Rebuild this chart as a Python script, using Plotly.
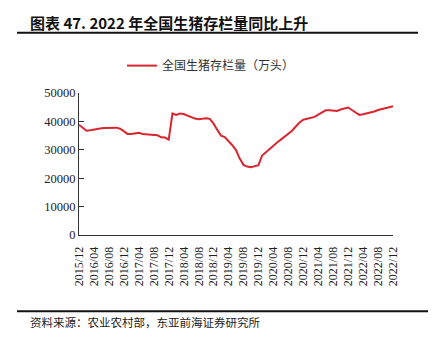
import pandas as pd
import plotly.graph_objects as go

# Monthly labels, 2015/12 .. 2022/12
months = [d.strftime("%Y/%m") for d in pd.date_range("2015-12-01", "2022-12-01", freq="MS")]

# National live-pig inventory, 10k head
inventory = [
    38800, 37600, 36700, 36900, 37200, 37400, 37600, 37700, 37700, 37800,  # 2015/12-2016/09
    37800, 37400, 36400, 35600, 35600, 35900, 36000, 35600, 35500, 35300,  # 2016/10-2017/07
    35100, 35100, 34400, 34300, 33600, 42800, 42300, 42800, 42600, 42000,  # 2017/08-2018/05
    41500, 41000, 40800, 40900, 41100, 40900, 39200, 37000, 35000, 34500,  # 2018/06-2019/03
    33200, 31600, 29900, 26900, 24700, 24100, 23900, 24300, 24600, 28000,  # 2019/04-2020/01
    29200, 30500, 31500, 32600, 33600, 34700, 35700, 36700, 38200, 39600,  # 2020/02-2020/11
    40600, 41000, 41300, 41600, 42400, 43100, 43900, 43900, 43800, 43700,  # 2020/12-2021/09
    44200, 44600, 44900, 44000, 43100, 42300, 42500, 42800, 43100, 43500,  # 2021/10-2022/07
    44000, 44400, 44700, 45000, 45300,                                     # 2022/08-2022/12
]

tick_labels = months[::4]
y_ticks = [0, 10000, 20000, 30000, 40000, 50000]

title_text = "图表 47. 2022 年全国生猪存栏量同比上升"
series_name = "全国生猪存栏量（万头）"
source_text = "资料来源：农业农村部，东亚前海证券研究所"

serif = "Liberation Serif, Times New Roman, serif"
cjk = "Noto Sans CJK SC, sans-serif"

# plot-area geometry in pixels, used to place the decorations in paper units
PL, PT, PW, PH = 79, 92.5, 314, 142.5


def px_x(x):
    return (x - PL) / PW


def px_y(y):
    return 1 - (y - PT) / PH


fig = go.Figure()
fig.add_trace(go.Scatter(
    x=months, y=inventory, mode="lines", name=series_name,
    line=dict(color="#d9262f", width=2),
))

fig.update_layout(
    width=436, height=348,
    margin=dict(l=PL, r=436 - PL - PW, t=PT, b=348 - PT - PH),
    paper_bgcolor="white", plot_bgcolor="white",
    showlegend=True,
    legend=dict(
        x=px_x(122), xanchor="left", y=px_y(65), yanchor="middle",
        orientation="h", bgcolor="rgba(0,0,0,0)",
        font=dict(family=cjk, size=12, color="#333333"),
    ),
    font=dict(family=serif, color="#222222"),
)

fig.update_xaxes(
    type="category", range=[0, len(months) - 1],
    tickmode="array", tickvals=tick_labels, ticktext=tick_labels,
    tickangle=-90, tickfont=dict(family=serif, size=12, color="#222222"),
    ticklabelstandoff=6,
    showline=True, linecolor="#333333", linewidth=1,
    showgrid=False, ticks="", zeroline=False,
)
fig.update_yaxes(
    range=[0, 50000], tickmode="array", tickvals=y_ticks,
    ticktext=[str(v) for v in y_ticks],
    tickfont=dict(family=serif, size=12.5, color="#222222"),
    showline=True, linecolor="#333333", linewidth=1,
    ticks="inside", ticklen=5, tickcolor="#333333",
    showgrid=False, zeroline=False,
)

# Title, rules and source note
fig.add_annotation(
    text="<b>" + title_text + "</b>", xref="paper", yref="paper",
    x=px_x(28), xanchor="left", y=px_y(22), yanchor="middle",
    showarrow=False, font=dict(family=cjk, size=15, color="#111111"),
)
fig.add_shape(type="line", xref="paper", yref="paper",
              x0=px_x(17), x1=px_x(418), y0=px_y(32), y1=px_y(32),
              line=dict(color="#111111", width=2))
fig.add_shape(type="line", xref="paper", yref="paper",
              x0=px_x(17), x1=px_x(428), y0=px_y(311.5), y1=px_y(311.5),
              line=dict(color="#111111", width=2))
fig.add_annotation(
    text=source_text, xref="paper", yref="paper",
    x=px_x(28), xanchor="left", y=px_y(322), yanchor="middle",
    showarrow=False, font=dict(family=cjk, size=11.5, color="#222222"),
)

fig.write_html("out.html")
